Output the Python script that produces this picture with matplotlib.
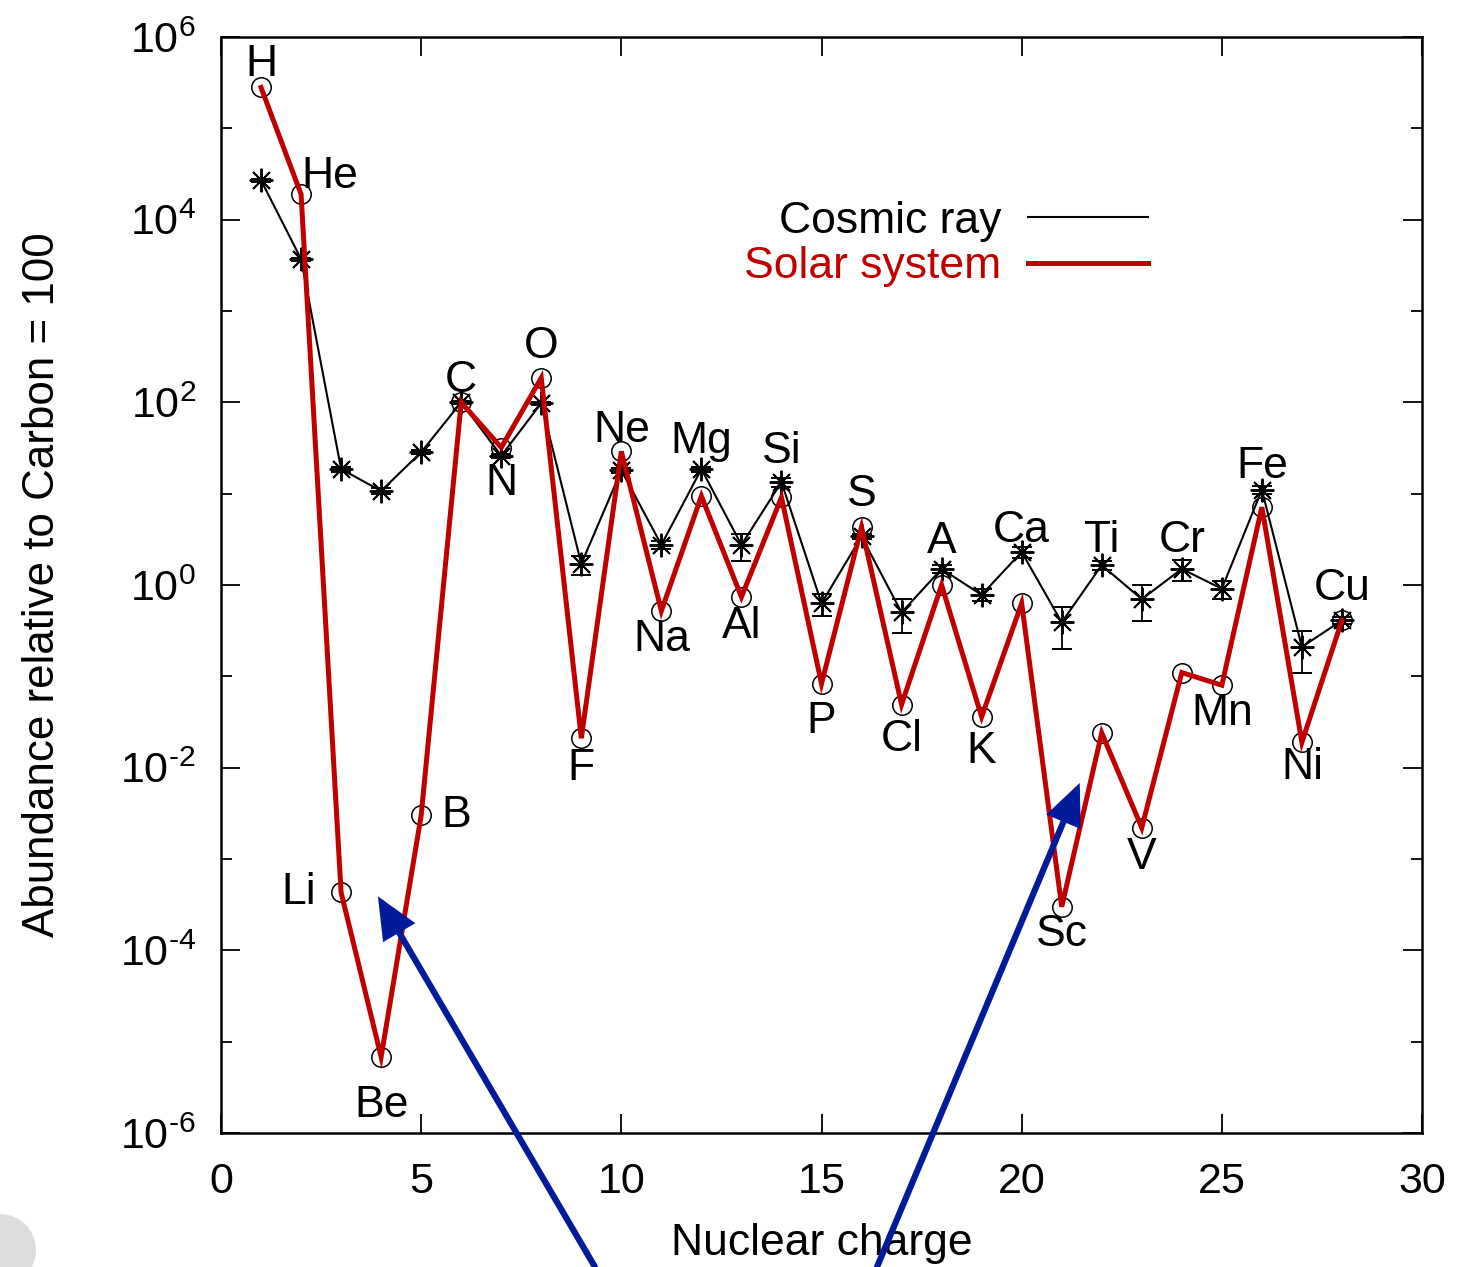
import matplotlib
matplotlib.use("Agg")
import matplotlib.pyplot as plt
from matplotlib.lines import Line2D
from matplotlib.patches import Circle
from matplotlib.ticker import FixedLocator, FuncFormatter, NullFormatter
import numpy as np

plt.rcParams['font.family'] = ['Liberation Sans', 'DejaVu Sans']
plt.rcParams['mathtext.fontset'] = 'custom'
plt.rcParams['mathtext.rm'] = 'Liberation Sans'
plt.rcParams['mathtext.it'] = 'Liberation Sans:italic'
plt.rcParams['mathtext.default'] = 'regular'
plt.rcParams['axes.unicode_minus'] = False

# ---------------- data ----------------
nuclear_charge = list(range(1, 29))
elements = ["H", "He", "Li", "Be", "B", "C", "N", "O", "F", "Ne", "Na", "Mg", "Al", "Si",
            "P", "S", "Cl", "A", "K", "Ca", "Sc", "Ti", "V", "Cr", "Mn", "Fe", "Ni", "Cu"]
cosmic_ray = [2.7e4, 3700, 18.6, 10.7, 28.5, 100, 26, 98, 1.7, 18, 2.75, 18.6, 2.75, 13.4,
              0.63, 3.4, 0.5, 1.5, 0.78, 2.3, 0.39, 1.65, 0.7, 1.5, 0.91, 11, 0.21, 0.41]
cosmic_err = [1000, 150, 1.2, 0.8, 1.5, 3, 1.5, 4, 0.4, 1.2, 0.3, 1.2, 0.9, 1.5,
              0.17, 0.25, 0.2, 0.15, 0.12, 0.3, 0.19, 0.2, 0.3, 0.4, 0.2, 1.2, 0.1, 0.04]
solar_system = [2.8e5, 1.9e4, 4.3e-4, 6.8e-6, 3.0e-3, 100, 32, 185, 0.021, 29, 0.52, 9.4,
                0.74, 9.1, 0.083, 4.3, 0.049, 1.0, 0.036, 0.63, 3.0e-4, 0.024, 2.2e-3, 0.11,
                0.080, 7.1, 0.019, 0.41]
x_ticks = [0, 5, 10, 15, 20, 25, 30]
y_major = [1e-6, 1e-4, 1e-2, 1e0, 1e2, 1e4, 1e6]
y_minor = [1e-5, 1e-3, 1e-1, 1e1, 1e3, 1e5]

# label placement: anchor ('up' = above upper point, 'lo' = below lower point, 's' = solar point)
label_anchor = ["s", "s", "s", "s", "s", "up", "lo", "up", "lo", "up", "lo", "up", "lo", "up",
                "lo", "up", "lo", "up", "lo", "up", "lo", "up", "lo", "up", "lo", "up", "lo", "up"]
label_offset_px = [(0, -23), (29, -18), (-42, 0), (0, 49), (35, 0), (0, -22), (0, 28), (0, -31),
                   (0, 30), (0, -21), (0, 29), (0, -28), (0, 30), (0, -31), (0, 38), (0, -33),
                   (0, 35), (0, -27), (0, 35), (0, -21), (0, 28), (0, -25), (0, 30), (0, -28),
                   (0, 28), (0, -23), (0, 25), (0, -32)]

RED = "#c00000"
BLUE = "#001a99"
FS = 32


def pow10_label(v, pos):
    e = int(round(np.log10(v)))
    s = str(e).replace("-", "\u2010")
    return "$10^{%s}$" % s


fig = plt.figure(figsize=(14.66, 12.67), dpi=100)
ax = fig.add_axes([221 / 1466, 1 - 1133 / 1267, (1422 - 221) / 1466, (1133 - 37) / 1267])

# cosmic ray with error bars
ax.errorbar(nuclear_charge, cosmic_ray, yerr=cosmic_err, color="black", lw=1.5,
            marker=(8, 2, 0), ms=17, mew=1.4, ecolor="black", elinewidth=1.3,
            capsize=7, capthick=1.3, zorder=2)
# solar system
ax.plot(nuclear_charge, solar_system, ls="none", marker="o", ms=14, mfc="none",
        mec="black", mew=1.1, zorder=3)
ax.plot(nuclear_charge, solar_system, color=RED, lw=3.6, zorder=4,
        solid_joinstyle="miter")

ax.set_xscale("linear")
ax.set_yscale("log")
ax.set_xlim(0, 30)
ax.set_ylim(1e-6, 1e6)
ax.xaxis.set_major_locator(FixedLocator(x_ticks))
ax.yaxis.set_major_locator(FixedLocator(y_major))
ax.yaxis.set_minor_locator(FixedLocator(y_minor))
ax.yaxis.set_major_formatter(FuncFormatter(pow10_label))
ax.yaxis.set_minor_formatter(NullFormatter())
ax.tick_params(which="major", direction="in", length=14, width=1.3, top=True, right=True,
               labelsize=31, pad=18)
ax.tick_params(axis="x", which="major", pad=21)
ax.tick_params(which="minor", direction="in", length=8, width=1.3, top=True, right=True)
ax.tick_params(axis="x", which="minor", bottom=False, top=False)
for s in ax.spines.values():
    s.set_linewidth(1.8)

ax.set_xlabel("Nuclear charge", fontsize=FS, va="center")
ax.xaxis.set_label_coords(0.5, -0.1004)
ax.set_ylabel("Abundance relative to Carbon = 100", fontsize=31.6, va="center")
ax.yaxis.set_label_coords(-0.149, 0.5)

# element labels
for z, el, cr, so, anc, off in zip(nuclear_charge, elements, cosmic_ray, solar_system,
                                   label_anchor, label_offset_px):
    if anc == "s":
        yv = so
    elif anc == "up":
        yv = max(cr, so)
    else:
        yv = min(cr, so)
    ax.annotate(el, (z, yv), xytext=(off[0] * 0.72, -off[1] * 0.72),
                textcoords="offset points", ha="center", va="center", fontsize=FS,
                zorder=5)

# legend
handles = [Line2D([], [], color="black", lw=1.5), Line2D([], [], color=RED, lw=3.6)]
leg = ax.legend(handles, ["Cosmic ray", "Solar system"], loc="center right",
                bbox_to_anchor=((1148 - 221) / 1201, (1133 - 244) / 1096),
                frameon=False, markerfirst=False, fontsize=FS, handlelength=2.7,
                handletextpad=0.6, labelspacing=0.1, borderpad=0, borderaxespad=0)
leg.get_texts()[1].set_color(RED)

# blue arrows
arrow_kw = dict(arrowstyle="-|>,head_length=0.45,head_width=0.2",
                mutation_scale=50, color=BLUE, lw=4.5, shrinkA=0, shrinkB=0,
                joinstyle="miter")
ax.annotate("", xy=(3.92, 3.9e-4), xycoords="data", xytext=(595 / 1466, 0.0),
            textcoords="figure fraction", arrowprops=arrow_kw,
            annotation_clip=False, zorder=6)
ax.annotate("", xy=(21.45, 6.8e-3), xycoords="data", xytext=(877 / 1466, 0.0),
            textcoords="figure fraction", arrowprops=arrow_kw,
            annotation_clip=False, zorder=6)

# gray corner circle
fig.patches.append(Circle((0, 0.17), 0.36, transform=fig.dpi_scale_trans,
                          facecolor="#dddddd", edgecolor="none", zorder=0))

fig.savefig("out.png", dpi=100)
